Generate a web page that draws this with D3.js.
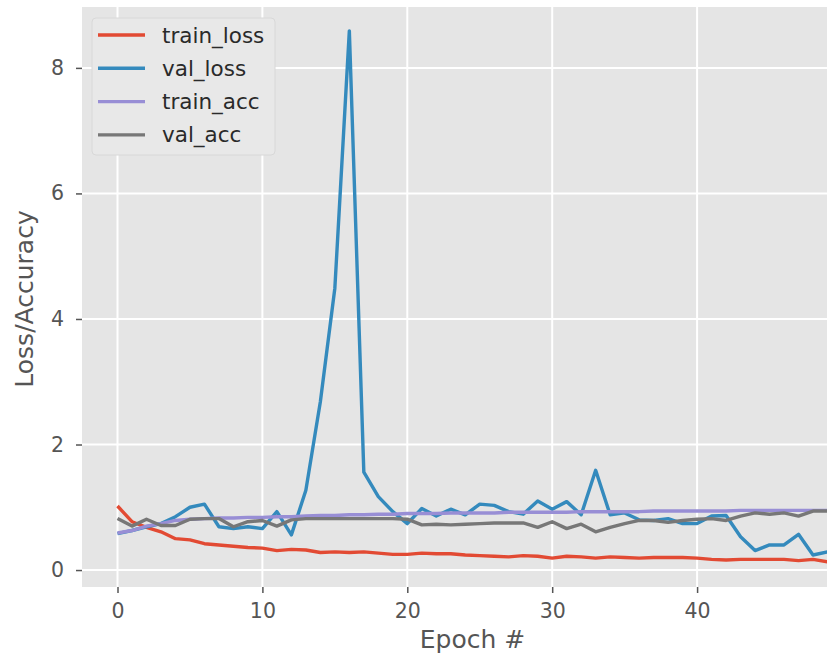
<!DOCTYPE html>
<html>
  <head>
    <meta charset="utf-8">
    <script src="https://d3js.org/d3.v7.min.js"></script>
    <style>
      body { margin: 0; background: #fff; }
      text { font-family: "DejaVu Sans", sans-serif; }
    </style>
  </head>
  <title>Training Loss and Accuracy</title>
  <body>
    <div id="chart"></div>
    <script type="text/javascript">
    // values, one per epoch
    var trainLoss = [1.02,0.77,0.68,0.61,0.50,0.48,0.42,0.40,0.38,0.36,
                     0.35,0.31,0.33,0.32,0.28,0.29,0.28,0.29,0.27,0.25,
                     0.25,0.27,0.26,0.26,0.24,0.23,0.22,0.21,0.23,0.22,
                     0.19,0.22,0.21,0.19,0.21,0.20,0.19,0.20,0.20,0.20,
                     0.19,0.17,0.16,0.17,0.17,0.17,0.17,0.15,0.17,0.13];
    var valLoss = [0.58,0.63,0.69,0.74,0.85,1.00,1.05,0.69,0.66,0.69,
                   0.66,0.93,0.56,1.27,2.68,4.49,8.59,1.56,1.17,0.93,
                   0.74,0.98,0.86,0.97,0.88,1.05,1.03,0.93,0.89,1.10,
                   0.97,1.09,0.88,1.59,0.88,0.91,0.80,0.79,0.82,0.74,
                   0.74,0.86,0.87,0.53,0.31,0.40,0.40,0.57,0.24,0.29];
    var trainAcc = [0.59,0.63,0.70,0.74,0.79,0.81,0.82,0.83,0.83,0.84,
                    0.84,0.85,0.85,0.86,0.87,0.87,0.88,0.88,0.89,0.89,
                    0.90,0.90,0.90,0.91,0.91,0.91,0.91,0.92,0.92,0.92,
                    0.92,0.92,0.93,0.93,0.93,0.93,0.93,0.94,0.94,0.94,
                    0.94,0.94,0.94,0.95,0.95,0.95,0.95,0.95,0.95,0.95];
    var valAcc = [0.82,0.70,0.81,0.71,0.71,0.81,0.82,0.82,0.69,0.77,
                  0.79,0.70,0.80,0.82,0.82,0.82,0.82,0.82,0.82,0.82,
                  0.81,0.72,0.73,0.72,0.73,0.74,0.75,0.75,0.75,0.68,
                  0.77,0.66,0.73,0.61,0.68,0.74,0.79,0.79,0.76,0.79,
                  0.81,0.82,0.79,0.86,0.91,0.89,0.91,0.86,0.94,0.94];

    var seriesNames = ["train_loss", "val_loss", "train_acc", "val_acc"];
    var seriesColors = ["#E24A33", "#348ABD", "#988ED5", "#777777"];
    var xTicks = [0, 10, 20, 30, 40];
    var yTicks = [0, 2, 4, 6, 8];

    function draw() {
      var epochs = d3.range(trainLoss.length);
      var allSeries = [trainLoss, valLoss, trainAcc, valAcc];

      var width = 827, height = 659;
      // plot box (right side runs past the window, like the cropped picture)
      var pLeft = 82, pRight = 863, pTop = 7, pBottom = 587;

      var svg = d3.select("#chart")
        .append("svg")
        .attr("width", width)
        .attr("height", height);

      var x = d3.scaleLinear().domain([-2.45, 51.45]).range([pLeft, pRight]);
      var y = d3.scaleLinear().domain([-0.27, 8.97]).range([pBottom, pTop]);

      // grey panel
      svg.append("rect")
        .attr("x", pLeft).attr("y", pTop)
        .attr("width", pRight - pLeft).attr("height", pBottom - pTop)
        .attr("fill", "#E5E5E5");

      svg.append("clipPath").attr("id", "plotclip")
        .append("rect")
        .attr("x", pLeft).attr("y", pTop)
        .attr("width", pRight - pLeft).attr("height", pBottom - pTop);

      // white grid
      var grid = svg.append("g").attr("clip-path", "url(#plotclip)");
      grid.selectAll(".vgrid").data(xTicks).enter().append("line")
        .attr("x1", d => x(d)).attr("x2", d => x(d))
        .attr("y1", pTop).attr("y2", pBottom)
        .attr("stroke", "#fff").attr("stroke-width", 2);
      grid.selectAll(".hgrid").data(yTicks).enter().append("line")
        .attr("x1", pLeft).attr("x2", pRight)
        .attr("y1", d => y(d)).attr("y2", d => y(d))
        .attr("stroke", "#fff").attr("stroke-width", 2);

      // axes
      var xAxis = svg.append("g")
        .attr("transform", "translate(0," + pBottom + ")")
        .call(d3.axisBottom(x).tickValues(xTicks).tickSize(6).tickPadding(10));
      var yAxis = svg.append("g")
        .attr("transform", "translate(" + pLeft + ",0)")
        .call(d3.axisLeft(y).tickValues(yTicks).tickSize(6).tickPadding(12));
      [xAxis, yAxis].forEach(function(a) {
        a.select(".domain").remove();
        a.selectAll(".tick line").attr("stroke", "#555").attr("stroke-width", 1.5);
        a.selectAll(".tick text")
          .attr("fill", "#555")
          .style("font-family", "DejaVu Sans")
          .style("font-size", "20.5px");
      });

      // lines
      var line = d3.line()
        .x((d, i) => x(epochs[i]))
        .y(d => y(d));
      var lines = svg.append("g").attr("clip-path", "url(#plotclip)");
      allSeries.forEach(function(s, k) {
        lines.append("path")
          .datum(s)
          .attr("d", line)
          .attr("fill", "none")
          .attr("stroke", seriesColors[k])
          .attr("stroke-width", 3.4)
          .attr("stroke-linejoin", "round");
      });

      // axis titles
      svg.append("text")
        .attr("x", (pLeft + pRight) / 2)
        .attr("y", 648)
        .style("text-anchor", "middle")
        .style("font-size", "25px")
        .attr("fill", "#555")
        .text("Epoch #");
      svg.append("text")
        .attr("transform", "translate(33,299) rotate(-90)")
        .style("text-anchor", "middle")
        .style("font-size", "25px")
        .attr("fill", "#555")
        .text("Loss/Accuracy");

      // legend
      var legend = svg.append("g");
      legend.append("rect")
        .attr("x", 92).attr("y", 18)
        .attr("width", 183).attr("height", 137)
        .attr("rx", 4)
        .attr("fill", "#E8E8E8")
        .attr("stroke", "#D8D8D8");
      var rows = legend.selectAll(".row").data(seriesNames).enter().append("g")
        .attr("transform", (d, i) => "translate(0," + (35 + i * 33.3) + ")");
      rows.append("line")
        .attr("x1", 98).attr("x2", 145)
        .attr("stroke", (d, i) => seriesColors[i])
        .attr("stroke-width", 3.4);
      rows.append("text")
        .attr("x", 162).attr("dy", "0.35em")
        .style("font-size", "21.5px")
        .attr("fill", "#2a2a2a")
        .text(d => d);
    }

    draw();
    </script>
  </body>
</html>
